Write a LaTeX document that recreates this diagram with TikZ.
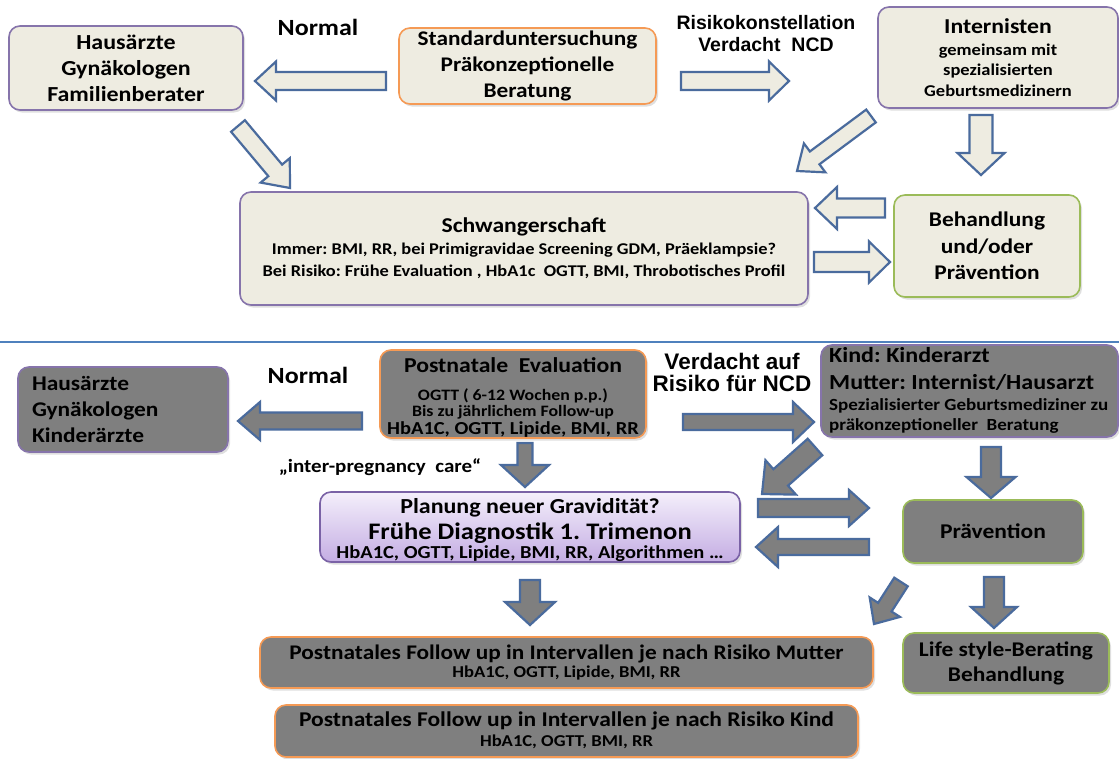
\documentclass[tikz,border=0pt]{standalone}
\usepackage{fontspec}
\setmainfont{Carlito}[FakeStretch=1.12]
\newfontfamily\arialf{Liberation Sans}
\usetikzlibrary{calc,shadows}
\definecolor{beige}{HTML}{EEECE1}
\definecolor{boxgray}{HTML}{7F7F7F}
\definecolor{arrblue}{HTML}{4A6B9D}
\definecolor{purp}{HTML}{8674AB}
\definecolor{purpdark}{HTML}{7A62A6}
\definecolor{orng}{HTML}{F59A55}
\definecolor{grn}{HTML}{9BBB59}
\definecolor{sepblue}{HTML}{4F81BD}
\definecolor{lavtop}{HTML}{F4EFFB}
\definecolor{lavbot}{HTML}{C4ADE3}
\newcommand\bxf[2]{\bfseries\fontsize{#1}{#2}\selectfont\lineskiplimit=-100pt\relax}
\newcommand\arf[2]{\arialf\bfseries\fontsize{#1}{#2}\selectfont\lineskiplimit=-100pt\relax}
\newcommand\fsz[1]{\fontsize{#1}{#1}\selectfont}
\newcommand\blockarr[6]{%
  \coordinate (bah) at ($(#3)!#6!(#2)$);
  \draw[#1] ($(#2)!#4!90:(#3)$) -- ($(bah)!#4!90:(#3)$) -- ($(bah)!#5!90:(#3)$) -- (#3)
    -- ($(bah)!#5!-90:(#3)$) -- ($(bah)!#4!-90:(#3)$) -- ($(#2)!#4!-90:(#3)$) -- cycle;}
\tikzset{
  box/.style={rectangle, rounded corners=11pt, line width=1.6pt, inner sep=0pt, align=center,
    drop shadow={shadow xshift=2pt, shadow yshift=-2.5pt, opacity=0.25}},
  topbox/.style={box, fill=beige},
  botbox/.style={box, fill=boxgray},
  toparrow/.style={fill=beige, draw=arrblue, line width=2.2pt, line join=miter},
  botarrow/.style={fill=boxgray, draw=arrblue, line width=2.2pt, line join=miter},
  lbl/.style={inner sep=0pt, align=center},
}
\begin{document}
\frenchspacing
\begin{tikzpicture}[x=1pt, y=-1pt]
\useasboundingbox[fill=white] (0,0) rectangle (1119,758);

% ---------- upper part ----------
\node[topbox, draw=purp, minimum width=234pt, minimum height=84pt, font=\bxf{21.4}{26}] (A) at (126,68)
  {Hausärzte\\Gynäkologen\\Familienberater};
\node[topbox, draw=orng, minimum width=257pt, minimum height=76pt, font=\bxf{20.8}{26}] (B) at (527.5,66)
  {Standarduntersuchung\\Präkonzeptionelle\\Beratung};
\node[topbox, draw=purp, minimum width=240pt, minimum height=101pt, font=\bxf{16.5}{20.5}] (C) at (998,57.5)
  {{\fsz{21.2}Internisten}\\[1pt]gemeinsam mit\\spezialisierten\\Geburtsmedizinern};
\node[topbox, draw=purp, minimum width=568pt, minimum height=113pt, font=\bxf{16.4}{22}] (D) at (524,248.5)
  {{\fsz{21.1}Schwangerschaft}\\Immer: BMI, RR, bei Primigravidae Screening GDM, Präeklampsie?\\Bei Risiko: Frühe Evaluation , HbA1c\ \ OGTT, BMI, Throbotisches Profil};
\node[topbox, draw=grn, minimum width=186pt, minimum height=102pt, font=\bxf{20.9}{26.5}] (E) at (987,246)
  {Behandlung\\und/oder\\Prävention};

\node[lbl, font=\bxf{23.2}{26}] (N1) at (318,27) {Normal};
\node[lbl, font=\arf{19.5}{22}] (R1) at (766,34) {Risikokonstellation\\Verdacht\ \ NCD};

\coordinate (a1s) at (386,81);  \coordinate (a1e) at (255,81);
\coordinate (a2s) at (681,81);  \coordinate (a2e) at (789,81);
\coordinate (a3s) at (871,116); \coordinate (a3e) at (797,171);
\coordinate (a4s) at (981,115); \coordinate (a4e) at (981,175);
\coordinate (a5s) at (885,208); \coordinate (a5e) at (815,208);
\coordinate (a6s) at (814,262); \coordinate (a6e) at (890,262);
\coordinate (a7s) at (238,126); \coordinate (a7e) at (290,188);
\blockarr{toparrow}{a1s}{a1e}{9pt}{19.5pt}{21pt}
\blockarr{toparrow}{a2s}{a2e}{9pt}{19.5pt}{20pt}
\blockarr{toparrow}{a3s}{a3e}{8pt}{18pt}{22pt}
\blockarr{toparrow}{a4s}{a4e}{11.5pt}{23.5pt}{22pt}
\blockarr{toparrow}{a5s}{a5e}{9.5pt}{21pt}{22pt}
\blockarr{toparrow}{a6s}{a6e}{10pt}{20.5pt}{21pt}
\blockarr{toparrow}{a7s}{a7e}{9pt}{19pt}{23pt}

% separator
\draw[sepblue, line width=1.3pt] (0,342) -- (1119,342);

% ---------- lower part ----------
\node[botbox, draw=purp, minimum width=210pt, minimum height=85pt, text width=182pt, align=left, font=\bxf{20.9}{26}] (F) at (123,409.5)
  {Hausärzte\\Gynäkologen\\Kinderärzte};
\node[botbox, draw=orng, minimum width=266pt, minimum height=88pt] (G) at (513,394) {};
\node[lbl, font=\bxf{15.9}{16}] (Gtext) at (513,397.5)
  {{\fsz{21.2}Postnatale~ Evaluation}\\[12pt]OGTT ( 6-12 Wochen p.p.)\\Bis zu jährlichem Follow-up\\[2.5pt]{\fsz{18.3}HbA1C, OGTT, Lipide, BMI, RR}};
\node[box, draw=purpdark, top color=lavtop, bottom color=lavbot, minimum width=420pt, minimum height=70pt] (H) at (530,527) {};
\node[lbl, font=\bxf{18.3}{19.5}] (Htext) at (530,530.5)
  {{\fsz{21.4}Planung neuer Gravidität?}\\[6pt]{\fsz{23.7}Frühe Diagnostik 1. Trimenon}\\HbA1C, OGTT, Lipide, BMI, RR, Algorithmen …};
\node[botbox, draw=purp, minimum width=297pt, minimum height=92pt] (I) at (969.5,391) {};
\node[lbl, align=left, anchor=west, font=\bxf{17}{20}] (Itext) at (829,390.5)
  {{\fsz{21.5}Kind: Kinderarzt}\\[7pt]{\fsz{21.5}Mutter: Internist/Hausarzt}\\[0.7pt]Spezialisierter Geburtsmediziner zu\\präkonzeptioneller\ \ Beratung};
\node[botbox, draw=grn, minimum width=180pt, minimum height=63pt, font=\bxf{21}{25}] (J) at (993,531.5)
  {Prävention};
\node[botbox, draw=orng, minimum width=613pt, minimum height=51pt, font=\bxf{16.6}{18}] (K) at (566.5,662.5)
  {{\fsz{20.8}Postnatales Follow up in Intervallen je nach Risiko Mutter}\\HbA1C, OGTT, Lipide, BMI, RR};
\node[botbox, draw=orng, minimum width=583pt, minimum height=52pt] (L) at (566.5,731) {};
\node[lbl, font=\bxf{16.6}{20.5}] (Ltext) at (566.5,730)
  {{\fsz{21}Postnatales Follow up in Intervallen je nach Risiko Kind}\\HbA1C, OGTT, BMI, RR};
\node[botbox, draw=grn, minimum width=206pt, minimum height=60pt, font=\bxf{20.9}{25}] (M) at (1006,663)
  {Life style-Berating\\Behandlung};

\node[lbl, font=\bxf{23.2}{26}] (N2) at (308,375) {Normal};
\node[lbl, font=\arf{22.5}{22}] (R2) at (732,372.5) {Verdacht auf\\Risiko für NCD};
\node[lbl, font=\bxf{18.75}{21}] (IP) at (380,467) {„inter-pregnancy\ \ care“};

\coordinate (b1s) at (362,421);  \coordinate (b1e) at (238,421);
\coordinate (b2s) at (683,422);  \coordinate (b2e) at (814,422);
\coordinate (b3s) at (525,443);  \coordinate (b3e) at (525,487);
\coordinate (b4s) at (815,447);  \coordinate (b4e) at (762,494);
\coordinate (b5s) at (758,508);  \coordinate (b5e) at (869,508);
\coordinate (b6s) at (869,547);  \coordinate (b6e) at (756,547);
\coordinate (b7s) at (991,447);  \coordinate (b7e) at (991,498);
\coordinate (b8s) at (901,582);  \coordinate (b8e) at (874,624);
\coordinate (b9s) at (530,580);  \coordinate (b9e) at (530,625);
\coordinate (b10s) at (994,577); \coordinate (b10e) at (994,628);
\blockarr{botarrow}{b1s}{b1e}{8.5pt}{19pt}{22pt}
\blockarr{botarrow}{b2s}{b2e}{8pt}{20pt}{21pt}
\blockarr{botarrow}{b3s}{b3e}{7.5pt}{24pt}{22pt}
\blockarr{botarrow}{b4s}{b4e}{11pt}{23pt}{25pt}
\blockarr{botarrow}{b5s}{b5e}{9pt}{18pt}{20pt}
\blockarr{botarrow}{b6s}{b6e}{8pt}{20pt}{22pt}
\blockarr{botarrow}{b7s}{b7e}{10pt}{24.5pt}{21pt}
\blockarr{botarrow}{b8s}{b8e}{8pt}{18pt}{20pt}
\blockarr{botarrow}{b9s}{b9e}{10pt}{25pt}{23pt}
\blockarr{botarrow}{b10s}{b10e}{10pt}{23pt}{21pt}
\end{tikzpicture}
\end{document}
